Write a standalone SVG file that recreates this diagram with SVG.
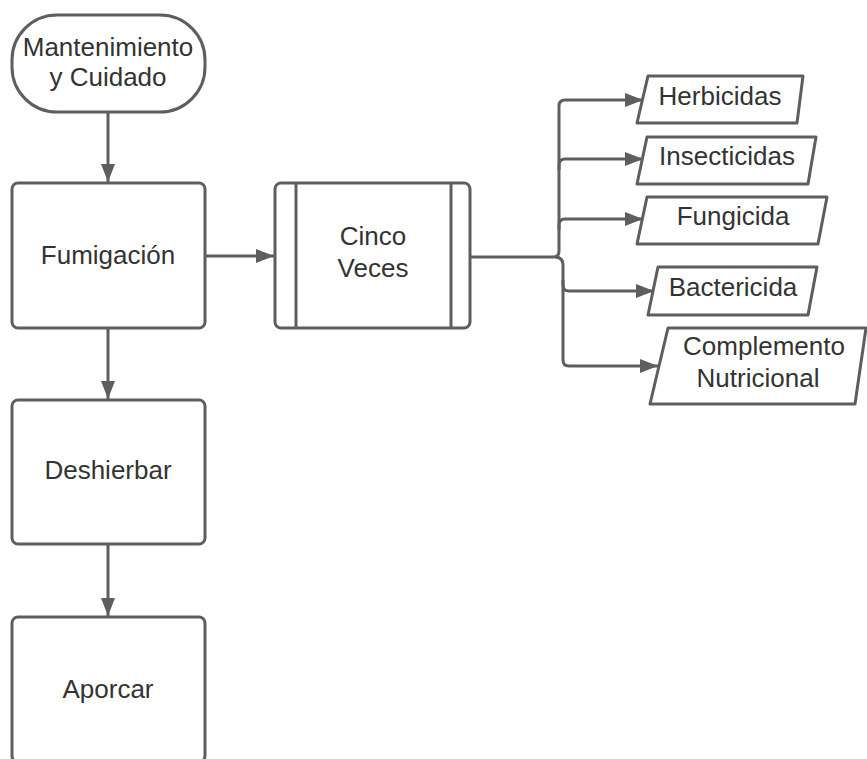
<svg xmlns="http://www.w3.org/2000/svg" width="867" height="759" viewBox="0 0 867 759">
<defs>
<style>
.s{fill:#fff;stroke:#5e5e5e;stroke-width:3;stroke-linejoin:round}
.t{font-family:"Liberation Sans",Arial,sans-serif;font-size:26px;fill:#333;text-anchor:middle}
.c{fill:none;stroke:#5e5e5e;stroke-width:3}
</style>
<marker id="a" markerUnits="userSpaceOnUse" markerWidth="20" markerHeight="16" refX="18" refY="8" orient="auto">
<path d="M0,1 L18,8 L0,15 Z" fill="#5e5e5e"/>
</marker>
</defs>
<rect width="867" height="759" fill="#fff"/>
<g id="connectors">
<path class="c" d="M108,113 V182" marker-end="url(#a)"/>
<path class="c" d="M108,328 V399" marker-end="url(#a)"/>
<path class="c" d="M108,544 V616" marker-end="url(#a)"/>
<path class="c" d="M205,256 H274" marker-end="url(#a)"/>
<path class="c" d="M470,257 H553 Q559,257 559,251 V106 Q559,100 565,100 H643" marker-end="url(#a)"/>
<path class="c" d="M559,170 V165 Q559,159 565,159 H643" marker-end="url(#a)"/>
<path class="c" d="M559,230 V225 Q559,219 565,219 H643" marker-end="url(#a)"/>
<path class="c" d="M555,257 Q563,257 563,265 V285 Q563,291 569,291 H654" marker-end="url(#a)"/>
<path class="c" d="M563,280 V360 Q563,366 569,366 H658" marker-end="url(#a)"/>
</g>
<g id="mantenimiento">
<rect class="s" x="12" y="15" width="193" height="97" rx="45" ry="45"/>
<text class="t" x="108" y="56">Mantenimiento</text>
<text class="t" x="108" y="86">y Cuidado</text>
</g>
<g id="fumigacion">
<rect class="s" x="12" y="183" width="193" height="145" rx="6"/>
<text class="t" x="108" y="264">Fumigación</text>
</g>
<g id="deshierbar">
<rect class="s" x="12" y="400" width="193" height="144" rx="6"/>
<text class="t" x="108" y="479">Deshierbar</text>
</g>
<g id="aporcar">
<rect class="s" x="12" y="617" width="193" height="145" rx="6"/>
<text class="t" x="108" y="698">Aporcar</text>
</g>
<g id="cinco">
<rect class="s" x="275" y="183" width="195" height="145" rx="6"/>
<line class="c" x1="296" y1="183" x2="296" y2="328"/>
<line class="c" x1="451" y1="183" x2="451" y2="328"/>
<text class="t" x="373" y="245">Cinco</text>
<text class="t" x="373" y="277">Veces</text>
</g>
<g id="herbicidas">
<path class="s" d="M648,76 H803 L797,123 H637 Z"/>
<text class="t" x="720" y="105">Herbicidas</text>
</g>
<g id="insecticidas">
<path class="s" d="M647,137 H816 L808,184 H637 Z"/>
<text class="t" x="727" y="165">Insecticidas</text>
</g>
<g id="fungicida">
<path class="s" d="M647,197 H827 L818,244 H637 Z"/>
<text class="t" x="733" y="225">Fungicida</text>
</g>
<g id="bactericida">
<path class="s" d="M658,267 H817 L808,315 H648 Z"/>
<text class="t" x="733" y="296">Bactericida</text>
</g>
<g id="complemento">
<path class="s" d="M668,328 H866 L855,404 H650 Z"/>
<text class="t" x="764" y="355">Complemento</text>
<text class="t" x="758" y="387">Nutricional</text>
</g>
</svg>
